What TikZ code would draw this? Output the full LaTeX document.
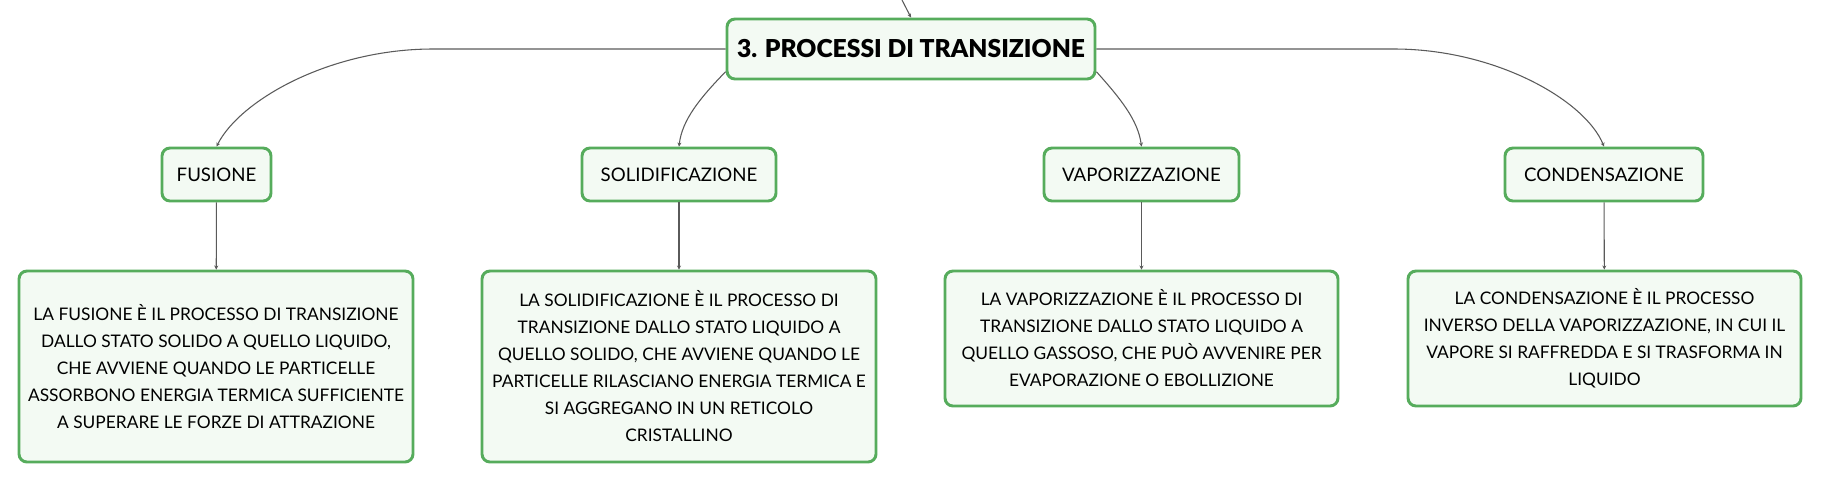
\documentclass[tikz,border=0pt]{standalone}
\usepackage{fontspec}
\setmainfont{Lato}
\newfontfamily\heavyfont{Lato Black}
\usetikzlibrary{arrows.meta}

\definecolor{boxgreen}{RGB}{86,172,92}
\definecolor{boxfill}{RGB}{243,250,243}
\definecolor{linkgray}{RGB}{90,90,90}

\begin{document}
\begin{tikzpicture}[x=0.75pt,y=0.75pt,yscale=-1,xscale=1,
  box/.style={draw=boxgreen,line width=2.2pt,fill=boxfill,rounded corners=6pt,inner sep=0pt,align=center},
  topic/.style={box,minimum height=39.75pt,font=\fontsize{14}{17}\selectfont},
  descr/.style={box,font=\fontsize{13}{20.25}\selectfont},
  link/.style={draw=linkgray,line width=0.8pt,-{Stealth[length=3pt,width=3pt]}}]
\useasboundingbox (0,0) rectangle (1821,483);

%Main topic
\node (main) at (911,49) [box,minimum width=276pt,minimum height=45pt,font=\fontsize{18.5}{22}\heavyfont] {3. PROCESSI DI TRANSIZIONE};

%Topics
\node (fus) at (216.5,174.5) [topic,minimum width=81.75pt] {FUSIONE};
\node (sol) at (679,174.5) [topic,minimum width=145.5pt] {SOLIDIFICAZIONE};
\node (vap) at (1141.5,174.5) [topic,minimum width=146.25pt] {VAPORIZZAZIONE};
\node (con) at (1604,174.5) [topic,minimum width=148.5pt] {CONDENSAZIONE};

%Descriptions
\node (fusd) at (216,366.5) [descr,minimum width=295.5pt,minimum height=143.25pt] {LA FUSIONE È IL PROCESSO DI TRANSIZIONE\\DALLO STATO SOLIDO A QUELLO LIQUIDO,\\CHE AVVIENE QUANDO LE PARTICELLE\\ASSORBONO ENERGIA TERMICA SUFFICIENTE\\A SUPERARE LE FORZE DI ATTRAZIONE};
\node (sold) at (679,366.5) [descr,minimum width=295.5pt,minimum height=143.25pt] {LA SOLIDIFICAZIONE È IL PROCESSO DI\\TRANSIZIONE DALLO STATO LIQUIDO A\\QUELLO SOLIDO, CHE AVVIENE QUANDO LE\\PARTICELLE RILASCIANO ENERGIA TERMICA E\\SI AGGREGANO IN UN RETICOLO\\CRISTALLINO};
\node (vapd) at (1141.5,338.5) [descr,minimum width=294.75pt,minimum height=101.25pt] {LA VAPORIZZAZIONE È IL PROCESSO DI\\TRANSIZIONE DALLO STATO LIQUIDO A\\QUELLO GASSOSO, CHE PUÒ AVVENIRE PER\\EVAPORAZIONE O EBOLLIZIONE};
\node (cond) at (1604.5,338.5) [descr,minimum width=294.75pt,minimum height=101.25pt] {LA CONDENSAZIONE È IL PROCESSO\\INVERSO DELLA VAPORIZZAZIONE, IN CUI IL\\VAPORE SI RAFFREDDA E SI TRASFORMA IN\\LIQUIDO};

%Incoming line
\coordinate (up) at (902,0);
\draw [link] (up) -- (main.north);

%Curve Lines
\draw [link] (main.west) -- (433,49) .. controls (330,49) and (240,100) .. (fus.north);
\draw [link] (main.187) .. controls (700,98) and (682,120) .. (sol.north);
\draw [link] (main.-7) .. controls (1120,98) and (1138,120) .. (vap.north);
\draw [link] (main.east) -- (1394,49) .. controls (1495,49) and (1585,100) .. (con.north);

%Straight Lines
\draw [link] (fus) -- (fusd);
\draw [link] (sol) -- (sold);
\draw [link] (vap) -- (vapd);
\draw [link] (con) -- (cond);

\end{tikzpicture}
\end{document}
